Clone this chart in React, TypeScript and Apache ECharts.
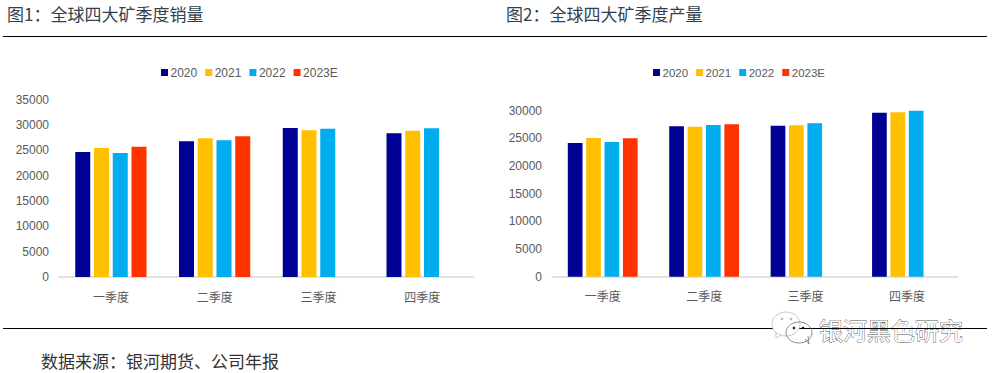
import React, { useEffect, useRef } from "react";
import * as echarts from "echarts";

const categories = ["一季度", "二季度", "三季度", "四季度"];
const seriesNames = ["2020", "2021", "2022", "2023E"];
const colors = ["#000092", "#FFC000", "#00ADEE", "#FF3300"];

const sales2020 = [24650, 26750, 29380, 28330];
const sales2021 = [25440, 27340, 28920, 28850];
const sales2022 = [24450, 26950, 29240, 29320];
const sales2023 = [25700, 27740, null, null];

const output2020 = [24160, 27170, 27290, 29640];
const output2021 = [25060, 27110, 27360, 29700];
const output2022 = [24340, 27410, 27710, 30000];
const output2023 = [25010, 27530, null, null];

const title1 = "图1\uFF1A全球四大矿季度销量";
const title2 = "图2\uFF1A全球四大矿季度产量";
const source = "数据来源\uFF1A银河期货、公司年报";
const watermark = "银河黑色研究";

const cjk = '"Noto Sans CJK SC", sans-serif';
const latin = '"Liberation Sans", Arial, sans-serif';
const labelColor = "#595959";

export default function App() {
  const ref = useRef<HTMLDivElement>(null);
  useEffect(() => {
    const chart = echarts.init(ref.current!, undefined, { renderer: "svg" });
    const bars = (data: (number | null)[], i: number, axis: number, width: number) => ({
      type: "bar",
      name: seriesNames[i],
      data,
      xAxisIndex: axis,
      yAxisIndex: axis,
      barWidth: width,
      barGap: "25%",
      itemStyle: { color: colors[i] },
    });
    const xAxis = (gridIndex: number) => ({
      type: "category",
      gridIndex,
      data: categories,
      axisLine: { lineStyle: { color: "#D9D9D9", width: 1.5 } },
      axisTick: { show: false },
      axisLabel: { color: labelColor, fontFamily: cjk, fontSize: 12, margin: 13 },
    });
    const yAxis = (gridIndex: number, max: number) => ({
      type: "value",
      gridIndex,
      min: 0,
      max,
      interval: 5000,
      axisLine: { show: false },
      axisTick: { show: false },
      splitLine: { show: false },
      axisLabel: {
        color: labelColor,
        fontFamily: latin,
        fontSize: 12,
        margin: 10,
        formatter: (v: number) => String(v),
      },
    });
    const legend = (left: number, itemGap: number, fontSize: number) => ({
      left,
      top: 66.5,
      padding: 0,
      itemWidth: 7,
      itemHeight: 7,
      itemGap,
      icon: "rect",
      data: seriesNames,
      textStyle: { color: labelColor, fontFamily: latin, fontSize, padding: [0, 0, 0, -2.5] },
    });
    const rule = (y: number) => ({
      type: "line",
      shape: { x1: 3, y1: y, x2: 987, y2: y },
      style: { stroke: "#000", lineWidth: 1 },
      z: 8,
    });
    const text = (x: number, y: number, value: string, fontSize: number, fill: string) => ({
      type: "text",
      x,
      y,
      style: { text: value, fontFamily: cjk, fontSize, fill, textVerticalAlign: "middle" },
      z: 5,
    });
    const bubble = (cx: number, cy: number, rx: number, ry: number, fill: string, stroke: string, z: number) => ({
      type: "ellipse",
      shape: { cx, cy, rx, ry },
      style: { fill, stroke, lineWidth: 1 },
      z,
    });
    const tail = (points: number[][], stroke: string, z: number) => ({
      type: "polyline",
      shape: { points },
      style: { fill: "#fff", stroke, lineWidth: 1 },
      z,
    });
    const dot = (cx: number, cy: number, fill: string) => ({
      type: "circle",
      shape: { cx, cy, r: 1.3 },
      style: { fill },
      z: 10,
    });
    chart.setOption({
      animation: false,
      backgroundColor: "#fff",
      legend: [legend(161, 8, 12), legend(653, 8, 11.5)],
      grid: [
        { left: 59, top: 99.5, width: 415, height: 177.5 },
        { left: 552, top: 110.7, width: 405.7, height: 166 },
      ],
      xAxis: [xAxis(0), xAxis(1)],
      yAxis: [yAxis(0, 35000), yAxis(1, 30000)],
      series: [
        bars(sales2020, 0, 0, 15),
        bars(sales2021, 1, 0, 15),
        bars(sales2022, 2, 0, 15),
        bars(sales2023, 3, 0, 15),
        bars(output2020, 0, 1, 14.7),
        bars(output2021, 1, 1, 14.7),
        bars(output2022, 2, 1, 14.7),
        bars(output2023, 3, 1, 14.7),
      ],
      graphic: [
        rule(36.5),
        rule(328.5),
        text(7, 13, title1, 17, "#333F50"),
        text(506, 13, title2, 17, "#333F50"),
        text(41, 360, source, 17, "#333333"),
        // watermark
        tail([[776, 331], [776, 338], [783, 334]], "#C8C8C8", 8.5),
        bubble(786, 324, 14, 12, "#fff", "#C8C8C8", 9),
        dot(782, 319, "#BDBDBD"),
        dot(791, 319, "#BDBDBD"),
        tail([[805, 339], [809, 344], [808, 336]], "#8A8A8A", 9.2),
        bubble(799, 332.5, 13, 10.5, "rgba(255,255,255,0)", "#8A8A8A", 9.3),
        dot(794, 328, "#222"),
        dot(803, 328, "#222"),
        {
          type: "text",
          x: 819,
          y: 329,
          style: {
            text: watermark,
            fontFamily: cjk,
            fontSize: 24,
            fill: "#fff",
            stroke: "#555",
            lineWidth: 0.8,
            textVerticalAlign: "middle",
          },
          z: 7,
        },
      ],
    });
    return () => chart.dispose();
  }, []);
  return <div ref={ref} style={{ position: "absolute", left: 0, top: 0, width: 994, height: 373 }} />;
}
